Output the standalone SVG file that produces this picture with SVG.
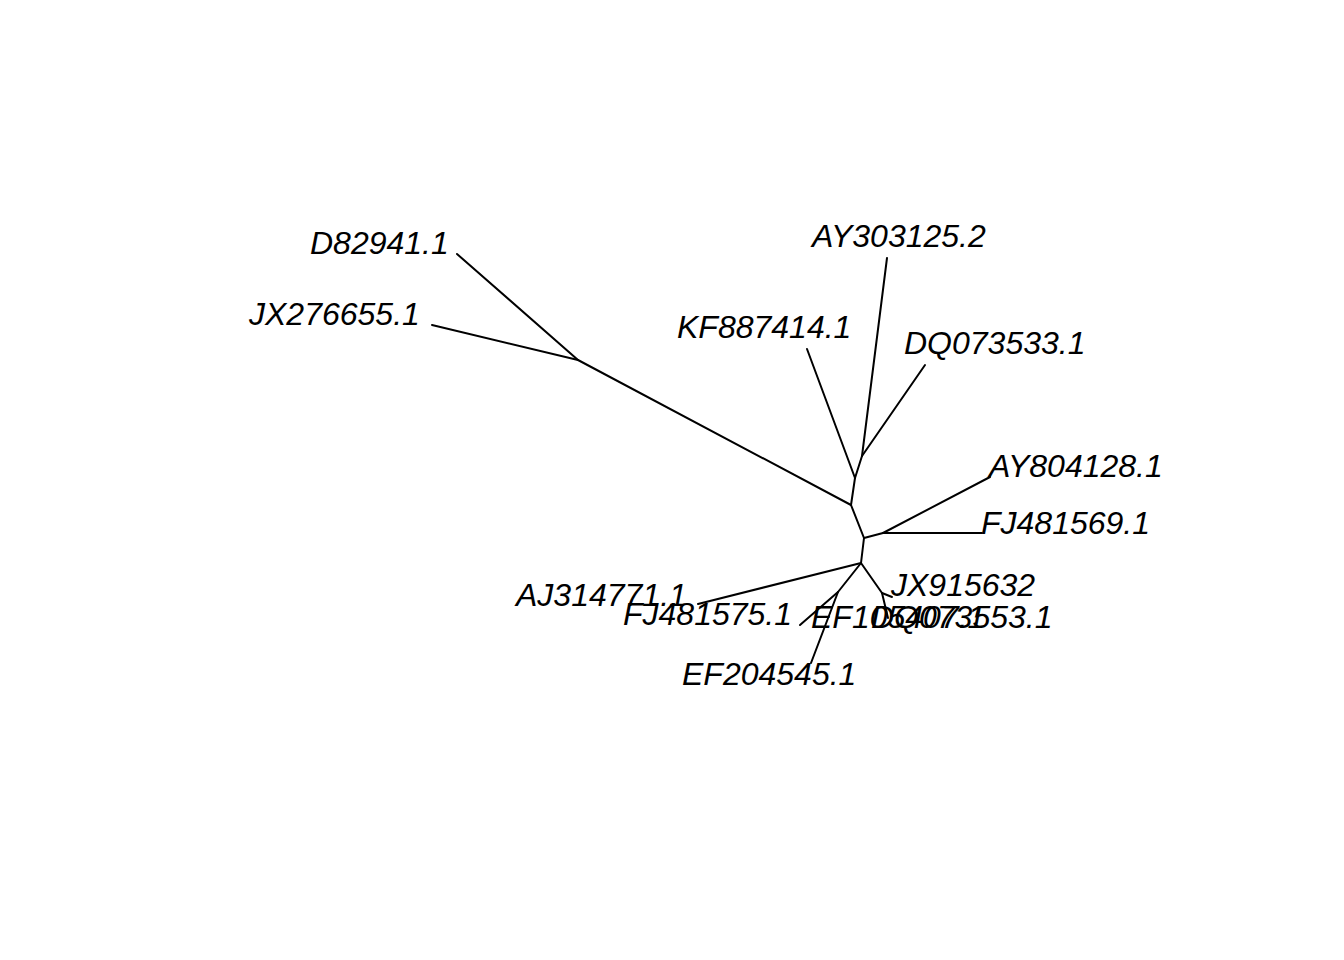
<svg xmlns="http://www.w3.org/2000/svg" width="1344" height="960" viewBox="0 0 1344 960">
<style>
.e{stroke:#000;stroke-width:2;fill:none;stroke-linecap:round}
.t{font-family:"Liberation Sans",Arial,Helvetica,sans-serif;font-style:italic;font-size:32px;fill:#000}
</style>
<rect width="1344" height="960" fill="#fff"/>
<g id="connectors">
<line class="e" x1="578" y1="360" x2="457" y2="254"/>
<line class="e" x1="578" y1="360" x2="432" y2="325"/>
<line class="e" x1="578" y1="360" x2="851" y2="505"/>
<line class="e" x1="851" y1="505" x2="855" y2="478"/>
<line class="e" x1="855" y1="478" x2="807" y2="349"/>
<line class="e" x1="855" y1="478" x2="862" y2="456"/>
<line class="e" x1="862" y1="456" x2="887" y2="258"/>
<line class="e" x1="862" y1="456" x2="925" y2="365"/>
<line class="e" x1="851" y1="505" x2="864" y2="538"/>
<line class="e" x1="864" y1="538" x2="883" y2="533"/>
<line class="e" x1="883" y1="533" x2="990" y2="477"/>
<line class="e" x1="883" y1="533" x2="982" y2="533"/>
<line class="e" x1="864" y1="538" x2="861" y2="563"/>
<line class="e" x1="861" y1="563" x2="698" y2="604"/>
<line class="e" x1="861" y1="563" x2="838" y2="592"/>
<line class="e" x1="838" y1="592" x2="800" y2="625"/>
<line class="e" x1="838" y1="592" x2="811" y2="663"/>
<line class="e" x1="861" y1="563" x2="882" y2="593"/>
<line class="e" x1="882" y1="593" x2="892" y2="597"/>
<line class="e" x1="882" y1="593" x2="888" y2="618"/>
</g>
<g id="D82941.1"><text class="t" x="310" y="254">D82941.1</text></g>
<g id="JX276655.1"><text class="t" x="249" y="325">JX276655.1</text></g>
<g id="AY303125.2"><text class="t" x="812" y="247">AY303125.2</text></g>
<g id="KF887414.1"><text class="t" x="677" y="338">KF887414.1</text></g>
<g id="DQ073533.1"><text class="t" x="904" y="354">DQ073533.1</text></g>
<g id="AY804128.1"><text class="t" x="989" y="477">AY804128.1</text></g>
<g id="FJ481569.1"><text class="t" x="981" y="534">FJ481569.1</text></g>
<g id="JX915632"><text class="t" x="891" y="596">JX915632</text></g>
<g id="AJ314771.1"><text class="t" x="516" y="606">AJ314771.1</text></g>
<g id="FJ481575.1"><text class="t" x="623" y="625">FJ481575.1</text></g>
<g id="EF105407.1"><text class="t" x="811" y="628">EF105407.1</text></g>
<g id="DQ073553.1"><text class="t" x="871" y="628">DQ073553.1</text></g>
<g id="EF204545.1"><text class="t" x="682" y="685">EF204545.1</text></g>
</svg>
